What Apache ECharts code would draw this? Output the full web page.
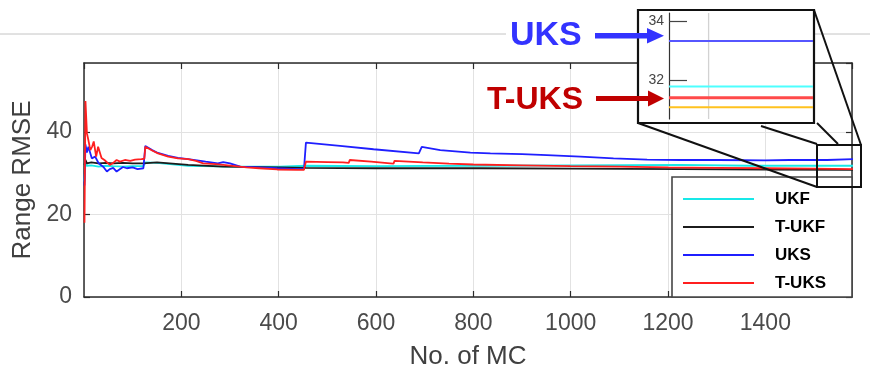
<!DOCTYPE html>
<html><head><meta charset="utf-8">
<script src="https://cdn.jsdelivr.net/npm/echarts@6/dist/echarts.min.js"></script>
<style>html,body{margin:0;padding:0;background:#fff}#c{width:870px;height:375px}</style>
</head><body><div id="c"></div>
<script>
// ---- data ----
const seriesNames = ['UKF', 'T-UKF', 'UKS', 'T-UKS'];

const ukfX = [1, 3, 6, 10, 15, 30, 45, 60, 80, 100, 122, 126, 150, 214, 300, 403, 456, 600, 814, 1000, 1225, 1369, 1450, 1580];
const ukfY = [28, 32.6, 31.8, 32.2, 31.9, 31.6, 31.8, 31.7, 31.6, 31.7, 31.7, 32.6, 32.5, 31.8, 31.6, 31.6, 31.8, 31.7, 31.8, 31.9, 32, 31.8, 31.8, 31.8];

const tukfX = [1, 3, 6, 10, 15, 30, 45, 60, 80, 100, 122, 126, 150, 214, 286, 400, 456, 600, 814, 1000, 1225, 1400, 1580];
const tukfY = [32, 33.2, 32.4, 32.8, 32.6, 32.4, 32.5, 32.4, 32.5, 32.4, 32.4, 32.8, 32.6, 32, 31.6, 31.4, 31.3, 31.2, 31.2, 31.1, 31, 30.9, 30.8];

const uksX = [1, 3, 6, 9, 16, 23, 30, 40, 47, 53, 60, 67, 80, 88, 100, 110, 122, 124, 126, 140, 152, 173, 193, 214, 250, 275, 286, 300, 321, 360, 397, 438, 452, 456, 526, 595, 688, 691, 694, 732, 794, 835, 900, 951, 1020, 1088, 1157, 1225, 1300, 1400, 1450, 1527, 1531, 1580];
const uksY = [27, 37, 35, 36.4, 33.6, 34, 32.4, 31.5, 30.4, 31, 31.3, 30.4, 31.5, 31.2, 31.4, 31.0, 31.2, 31.2, 36.6, 35.6, 34.9, 34.2, 33.7, 33.4, 32.8, 32.4, 32.7, 32.4, 31.6, 31.4, 31.2, 31.0, 31.0, 37.4, 36.6, 35.8, 34.8, 34.8, 36.4, 35.6, 35, 34.8, 34.6, 34.4, 34, 33.6, 33.3, 33.2, 33.2, 33.1, 33.2, 33.2, 33.5, 33.4];

const tuksX = [1, 3, 6, 9, 13, 17, 20, 25, 29, 36, 42, 46, 53, 60, 67, 74, 84, 95, 105, 118, 124, 126, 140, 152, 173, 193, 214, 230, 245, 270, 286, 310, 334, 360, 397, 438, 452, 456, 500, 532, 544, 546, 590, 629, 636, 638, 696, 750, 800, 900, 1000, 1100, 1200, 1300, 1400, 1500, 1580];
const tuksY = [18, 47.5, 39.7, 38, 35.6, 36.5, 37.7, 34, 36.4, 33.7, 33.2, 32.8, 32, 32.5, 33.2, 32.8, 33.2, 33.0, 33.3, 33.4, 33.5, 36.4, 35.5, 34.8, 34, 33.6, 33.4, 33.0, 32.4, 32.2, 32, 31.7, 31.4, 31.2, 30.9, 30.8, 30.8, 32.8, 32.7, 32.6, 32.5, 33.2, 32.8, 32.4, 32.3, 33.0, 32.6, 32.3, 32.1, 31.9, 31.7, 31.6, 31.4, 31.3, 31.2, 31.1, 31.0];

// zoomed inset (end of run)
const insetX = [1500, 1580];
const insetUKS = [33.34, 33.34];
const insetUKF = [31.8, 31.8];
const insetTUKS = [31.42, 31.42];
const insetTUKF = [31.1, 31.1];
const insetYTicks = [32, 34];
const insetGridX = [1522];

const xMax = 1578, yMax = 56.7, xStep = 200, yStep = 20;

const pairs = (xs, ys) => xs.map((x, i) => [x, ys[i]]);

const tickFont = "'Liberation Sans',Arial,sans-serif";
const boldFont = "'Liberation Sans',Arial,sans-serif";
const axisColor = '#2b2b2b';

const mainColors = {UKF: '#18e8e8', 'T-UKF': '#1c1c1c', UKS: '#1f1fff', 'T-UKS': '#ff1f1f'};

function mainSeries(name, xs, ys) {
  return {
    name, type: 'line', xAxisIndex: 0, yAxisIndex: 0, data: pairs(xs, ys),
    showSymbol: false, symbol: 'none', animation: false, z: 3,
    lineStyle: {color: mainColors[name], width: 1.8}, itemStyle: {color: mainColors[name]}
  };
}
function insetSeries(name, ys, color, width, extra) {
  return Object.assign({
    name, type: 'line', xAxisIndex: 2, yAxisIndex: 2, data: pairs(insetX, ys),
    showSymbol: false, symbol: 'none', animation: false, z: 40,
    lineStyle: {color, width}, itemStyle: {color}
  }, extra || {});
}

const chart = echarts.init(document.getElementById('c'), null, {renderer: 'canvas'});
const option = {
  animation: false,
  backgroundColor: '#fff',
  grid: [
    {left: 84, right: 18, top: 63, bottom: 78, containLabel: false},
    {left: 669, top: 13, width: 144, height: 106, containLabel: false, z: 30}
  ],
  legend: {
    data: seriesNames, orient: 'vertical', left: 678, top: 180, z: 50,
    icon: 'rect', itemWidth: 71, itemHeight: 2, itemGap: 0, selectedMode: false,
    textStyle: {fontFamily: boldFont, fontWeight: 'bold', fontSize: 17, color: '#000', lineHeight: 18, padding: [10, 0, 0, 16]}
  },
  xAxis: [
    {type: 'value', gridIndex: 0, min: 0, max: xMax, interval: xStep, position: 'bottom',
      name: 'No. of MC', nameLocation: 'middle', nameGap: 47,
      nameTextStyle: {fontFamily: tickFont, fontSize: 26, color: '#404040'},
      axisLine: {show: true, onZero: false, lineStyle: {color: axisColor, width: 1.5}},
      axisTick: {show: true, inside: true, length: 6, lineStyle: {color: axisColor, width: 1.2}},
      axisLabel: {showMinLabel: false, showMaxLabel: false, formatter: v => String(v), fontFamily: tickFont, fontSize: 23, color: '#4a4a4a', margin: 15},
      splitLine: {show: true, lineStyle: {color: '#e2e2e2', width: 1}}},
    {type: 'value', gridIndex: 0, min: 0, max: xMax, interval: xStep, position: 'top',
      axisLine: {show: true, onZero: false, lineStyle: {color: axisColor, width: 1.5}},
      axisTick: {show: true, inside: true, length: 6, lineStyle: {color: axisColor, width: 1.2}},
      axisLabel: {show: false}, splitLine: {show: false}},
    {type: 'value', gridIndex: 1, min: insetX[0], max: insetX[1], show: false, z: 35}
  ],
  yAxis: [
    {type: 'value', gridIndex: 0, min: 0, max: yMax, interval: yStep, position: 'left',
      name: 'Range RMSE', nameLocation: 'middle', nameGap: 44, nameRotate: 90,
      nameTextStyle: {fontFamily: tickFont, fontSize: 26, color: '#404040'},
      axisLine: {show: true, onZero: false, lineStyle: {color: axisColor, width: 1.5}},
      axisTick: {show: true, inside: true, length: 6, lineStyle: {color: axisColor, width: 1.2}},
      axisLabel: {showMaxLabel: false, formatter: v => String(v), fontFamily: tickFont, fontSize: 23, color: '#4a4a4a', margin: 12, padding: [5, 0, 0, 0]},
      splitLine: {show: true, lineStyle: {color: '#e2e2e2', width: 1}}},
    {type: 'value', gridIndex: 0, min: 0, max: yMax, interval: yStep, position: 'right',
      axisLine: {show: true, onZero: false, lineStyle: {color: axisColor, width: 1.5}},
      axisTick: {show: true, inside: true, length: 6, lineStyle: {color: axisColor, width: 1.2}},
      axisLabel: {show: false}, splitLine: {show: false}},
    {type: 'value', gridIndex: 1, min: 30.7, max: 34.29, position: 'left', z: 35,
      axisLine: {show: true, onZero: false, lineStyle: {color: '#333', width: 1.2}},
      axisTick: {show: true, inside: true, length: 18, customValues: insetYTicks, lineStyle: {color: '#444', width: 1.2}},
      axisLabel: {show: true, customValues: insetYTicks, fontFamily: tickFont, fontSize: 14, color: '#444', margin: 5, padding: [6, 0, 0, 0]},
      splitLine: {show: false}}
  ],
  series: [
    mainSeries('UKF', ukfX, ukfY),
    mainSeries('T-UKF', tukfX, tukfY),
    mainSeries('UKS', uksX, uksY),
    mainSeries('T-UKS', tuksX, tuksY),
    {
      name: 'inset-grid', type: 'line', xAxisIndex: 2, yAxisIndex: 2, z: 38,
      data: [[insetGridX[0], 30.7], [insetGridX[0], 34.29]],
      showSymbol: false, symbol: 'none', animation: false, silent: true,
      lineStyle: {color: '#d2d2d2', width: 1.3},
      markLine: {silent: true, symbol: 'none', label: {show: false}, animation: false,
        lineStyle: {color: '#e6e6e6', width: 1, type: 'solid'},
        data: insetYTicks.map(v => ({yAxis: v}))}
    },
    insetSeries('inset-UKS', insetUKS, '#5656ff', 2),
    insetSeries('inset-UKF', insetUKF, '#4dffff', 2),
    insetSeries('inset-T-UKS', insetTUKS, '#ff4a4a', 3.2),
    insetSeries('inset-T-UKF', insetTUKF, '#ffc21f', 2)
  ],
  graphic: {elements: [
    // slide separator line
    {type: 'line', z: 1, shape: {x1: 0, y1: 34, x2: 506, y2: 34}, style: {stroke: '#c4c4c4', lineWidth: 1}},
    {type: 'line', z: 1, shape: {x1: 814, y1: 34, x2: 870, y2: 34}, style: {stroke: '#c4c4c4', lineWidth: 1}},
    // legend box
    {type: 'rect', z: 20, shape: {x: 672, y: 177, width: 180, height: 120}, style: {fill: '#fff', stroke: '#454545', lineWidth: 1.6}},
    // zoom box on the main plot and connectors
    {type: 'rect', z: 25, shape: {x: 817, y: 145, width: 44, height: 42}, style: {fill: 'none', stroke: '#111', lineWidth: 2}},
    {type: 'line', z: 25, shape: {x1: 638, y1: 123, x2: 817, y2: 187}, style: {stroke: '#111', lineWidth: 2}},
    {type: 'line', z: 25, shape: {x1: 814, y1: 10, x2: 861, y2: 145}, style: {stroke: '#111', lineWidth: 2}},
    {type: 'line', z: 25, shape: {x1: 761, y1: 126, x2: 817, y2: 144}, style: {stroke: '#111', lineWidth: 2}},
    {type: 'line', z: 25, shape: {x1: 817, y1: 123, x2: 838, y2: 144}, style: {stroke: '#111', lineWidth: 2}},
    // inset frame
    {type: 'rect', z: 28, shape: {x: 638, y: 10, width: 176, height: 113}, style: {fill: '#fff', stroke: '#111', lineWidth: 2.2}},
    // annotations
    {type: 'text', z: 60, x: 510, y: 36, style: {text: 'UKS', fill: '#3333ff', font: "bold 34px 'Liberation Sans', Arial, sans-serif", verticalAlign: 'middle', textVerticalAlign: 'middle'}},
    {type: 'polygon', z: 60, shape: {points: [[595, 33], [647, 33], [647, 28], [664, 35.8], [647, 43.5], [647, 38.6], [595, 38.6]]}, style: {fill: '#3333ff'}},
    {type: 'text', z: 60, x: 487, y: 100, style: {text: 'T-UKS', fill: '#c00000', font: "bold 32px 'Liberation Sans', Arial, sans-serif", verticalAlign: 'middle', textVerticalAlign: 'middle'}},
    {type: 'polygon', z: 60, shape: {points: [[596, 96], [648, 96], [648, 90.5], [664, 98.5], [648, 106.5], [648, 101], [596, 101]]}, style: {fill: '#c00000'}}
  ]}
};
chart.setOption(option);
</script>
</body></html>
